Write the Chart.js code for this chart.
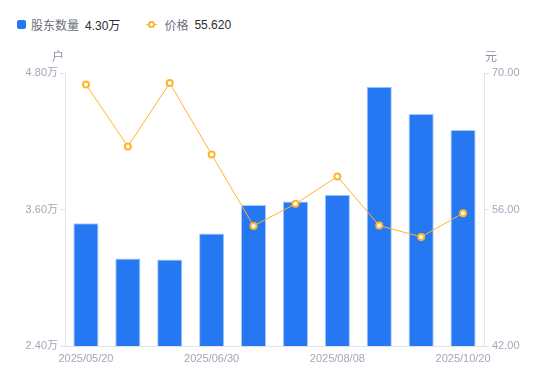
<!DOCTYPE html>
<html>
<head>
<meta charset="utf-8">
<script src="https://cdn.jsdelivr.net/npm/chart.js@4"></script>
<style>
  html, body { margin: 0; padding: 0; background: #fff; }
  #wrap { position: relative; width: 550px; height: 381px; font-family: 'Liberation Sans', 'Noto Sans CJK SC', sans-serif; }
  #legend { position: absolute; left: 17px; top: 16px; font-size: 12px; display: flex; align-items: center; white-space: nowrap; }
  .item { display: flex; align-items: center; margin-right: 26px; }
  .sq { width: 9px; height: 9px; border-radius: 2px; background: #2677f2; margin-right: 5px; }
  .ln { position: relative; width: 11px; height: 9px; margin-right: 7px; }
  .ln::before { content: ''; position: absolute; left: 0; right: 0; top: 4px; height: 1px; background: #ffb42e; }
  .ln::after { content: ''; position: absolute; left: 2px; top: 1px; width: 3px; height: 3px; border: 2px solid #ffb42e; border-radius: 50%; background: #fff; }
  .name { color: #6b6e80; margin-right: 6px; }
  .val { color: #2b2d36; }
  canvas { position: absolute; left: 0; top: 0; }
</style>
</head>
<body>
<div id="wrap">
  <div id="legend">
    <div class="item"><span class="sq"></span><span class="name">股东数量</span><span class="val" id="lv1"></span></div>
    <div class="item"><span class="ln"></span><span class="name">价格</span><span class="val" id="lv2"></span></div>
  </div>
  <canvas id="c" width="550" height="381"></canvas>
</div>
<script>
const dates   = ['2025/05/20','2025/05/31','2025/06/20','2025/06/30','2025/07/10','2025/07/20','2025/08/08','2025/08/31','2025/09/30','2025/10/20'];
const holders = [3.48, 3.17, 3.16, 3.39, 3.64, 3.67, 3.73, 4.68, 4.44, 4.30];   // 万户
const prices  = [68.83, 62.46, 68.97, 61.64, 54.32, 56.58, 59.38, 54.35, 53.19, 55.62];
const shownTicks = [0, 3, 6, 9];
const leftTicks  = [2.4, 3.6, 4.8];
const rightTicks = [42, 56, 70];

const el = (id) => document.getElementById(id);
el('lv1').textContent = holders[holders.length - 1].toFixed(2) + '万';
el('lv2').textContent = prices[prices.length - 1].toFixed(3);

const FONT = "'Liberation Sans', 'Noto Sans CJK SC', sans-serif";
const tickColor = '#a3a6b8';
const axisLine  = '#e3e4ea';

const axisTitles = {
  id: 'axisTitles',
  afterDraw(chart) {
    const { ctx, chartArea, scales } = chart;
    ctx.save();
    ctx.font = `12px ${FONT}`;
    ctx.fillStyle = '#8e91a3';
    ctx.textBaseline = 'bottom';
    ctx.textAlign = 'right';
    ctx.fillText('户', scales.y.right - 1, chartArea.top - 9);
    ctx.textAlign = 'left';
    ctx.fillText('元', scales.y1.left + 1, chartArea.top - 9);
    ctx.restore();
  }
};

new Chart(el('c').getContext('2d'), {
  data: {
    labels: dates,
    datasets: [
      { type: 'line', label: '价格', data: prices, yAxisID: 'y1', order: 0,
        borderColor: '#ffb42e', borderWidth: 1, tension: 0,
        pointRadius: 3, pointHoverRadius: 3, pointBackgroundColor: '#fff',
        pointBorderColor: '#ffb42e', pointBorderWidth: 2 },
      { type: 'bar', label: '股东数量', data: holders, yAxisID: 'y', order: 1,
        backgroundColor: '#2677f2', borderColor: 'rgba(160,196,255,0.9)', borderWidth: 1,
        categoryPercentage: 1, barPercentage: 0.6 }
    ]
  },
  options: {
    responsive: false,
    animation: false,
    layout: { padding: { top: 73, left: 0, right: 0, bottom: 0 } },
    plugins: { legend: { display: false }, tooltip: { enabled: false } },
    scales: {
      x: {
        grid: { display: false, drawTicks: false },
        border: { color: axisLine },
        afterFit: (s) => { s.height = 35; },
        ticks: {
          autoSkip: false, maxRotation: 0, padding: 6, color: tickColor,
          font: { family: FONT, size: 11 },
          callback: (v, i) => shownTicks.includes(i) ? dates[i] : ''
        }
      },
      y: {
        position: 'left', min: 2.4, max: 4.8,
        afterFit: (s) => { s.width = 65; },
        afterBuildTicks: (s) => { s.ticks = leftTicks.map(v => ({ value: v })); },
        grid: { drawOnChartArea: false, color: axisLine, tickLength: 5 },
        border: { color: axisLine },
        ticks: { color: tickColor, padding: 2, font: { family: FONT, size: 11 },
          callback: (v) => v.toFixed(2) + '万' }
      },
      y1: {
        position: 'right', min: 42, max: 70,
        afterFit: (s) => { s.width = 66; },
        afterBuildTicks: (s) => { s.ticks = rightTicks.map(v => ({ value: v })); },
        grid: { drawOnChartArea: false, color: axisLine, tickLength: 5 },
        border: { color: axisLine },
        ticks: { color: tickColor, padding: 3, font: { family: FONT, size: 11 },
          callback: (v) => v.toFixed(2) }
      }
    }
  },
  plugins: [axisTitles]
});
</script>
</body>
</html>
